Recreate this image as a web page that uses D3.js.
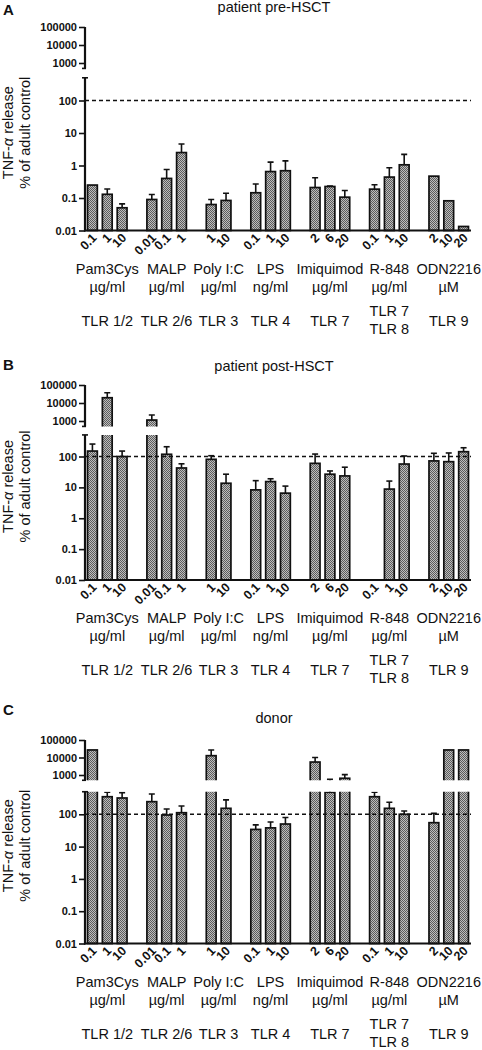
<!DOCTYPE html>
<html><head><meta charset="utf-8">
<script src="https://cdn.jsdelivr.net/npm/d3@7"></script>
<style>
body{margin:0;background:#fff}
text{font-family:"Liberation Sans",Arial,Helvetica,sans-serif;fill:#111}
</style>
</head><body>
<svg id="c" width="482" height="1050"></svg>
<script>
// ---------- DATA ----------
const groups = ["Pam3Cys","MALP","Poly I:C","LPS","Imiquimod","R-848","ODN2216"];
const units = ["µg/ml","µg/ml","µg/ml","ng/ml","µg/ml","µg/ml","µM"];
const receptors = [["TLR 1/2"],["TLR 2/6"],["TLR 3"],["TLR 4"],["TLR 7"],["TLR 7","TLR 8"],["TLR 9"]];
const doses = [["0.1","1","10"],["0.01","0.1","1"],["1","10"],["0.1","1","10"],["2","6","20"],["0.1","1","10"],["2","10","20"]];
const yTicksLower = [0.01,0.1,1,10,100];
const yTicksUpper = [1000,10000,100000];
const reference = 100;

const valuesA = [0.25,0.13,0.05, 0.09,0.40,2.5, 0.063,0.084, 0.145,0.65,0.69, 0.21,0.226,0.106, 0.187,0.44,1.05, 0.47,0.082,0.0133];
const errorsA = [null,0.19,0.066, 0.128,0.75,4.6, 0.09,0.14, 0.27,1.27,1.39, 0.42,0.235,0.17, 0.255,0.85,2.2, null,null,null];
const valuesB = [150,19600,100, 1130,118,42.5, 81,13.6, 8.3,15.4,6.5, 60,26.7,23.5, null,8.8,57, 72,68,143];
const errorsB = [253,37000,150, 2150,207,58, 106,26.7, 16.5,19,11, 120,34,45, null,16,104, 127,130,192];
const valuesC = [27000,350,320, 246,95,112, 12700,153, 34,38,50, 5500,480,650, 350,153,100, 55,27000,27000];
const errorsC = [null,480,470, 425,146,180, 26800,280, 47,58,80, 10000,560,1050, 480,235,127, 107,null,null];

// ---------- LAYOUT ----------
const panels = [
  {letter:"A", title:"patient pre-HSCT", values:valuesA, errors:errorsA,
   yTop:27, y1000:63, y100:100.5, yBottom:230.5, titleY:11.5, letterY:15},
  {letter:"B", title:"patient post-HSCT", values:valuesB, errors:errorsB,
   yTop:385, y1000:421, y100:456.5, yBottom:580, titleY:371, letterY:370},
  {letter:"C", title:"donor", values:valuesC, errors:errorsC,
   yTop:740, y1000:775, y100:814.3, yBottom:943.5, titleY:723, letterY:715}
];
const X0 = 85, X1 = 471, BRK = 500;

const svg = d3.select("#c");
const defs = svg.append("defs");
const pat = defs.append("pattern").attr("id","dots").attr("width",2).attr("height",2)
  .attr("patternUnits","userSpaceOnUse");
pat.append("rect").attr("width",2).attr("height",2).attr("fill","#bdbdbd");
pat.append("rect").attr("width",1).attr("height",1).attr("fill","#5c5c5c");
pat.append("rect").attr("x",1).attr("y",1).attr("width",1).attr("height",1).attr("fill","#5c5c5c");

const slots = [];
groups.forEach((g,gi)=>{
  doses[gi].forEach(d=>slots.push({key:g+"|"+d, group:gi, dose:d}));
  if (gi < groups.length-1) slots.push({key:"gap"+gi, gap:true});
});
const bars = slots.filter(s=>!s.gap);
const x = d3.scaleBand().domain(slots.map(s=>s.key)).range([X0,X1]).paddingInner(0.34).paddingOuter(0.17);
const bw = x.bandwidth();
const groupCenter = gi => d3.mean(bars.filter(b=>b.group===gi), b=>x(b.key)+bw/2);

panels.forEach((p,pi)=>{
  const upper = d3.scaleLog().domain([1000,100000]).range([p.y1000,p.yTop]);
  const lower = d3.scaleLog().domain([0.01,100]).range([p.yBottom,p.y100]);
  const uB = upper(BRK), lT = lower(BRK);
  const g = svg.append("g");

  g.append("text").attr("x",3).attr("y",p.letterY).attr("font-size",15).attr("font-weight","bold").text(p.letter);
  g.append("text").attr("x",274).attr("y",p.titleY).attr("text-anchor","middle").attr("font-size",14.5).text(p.title);

  const segs = [
    {ymap:v=> v>BRK ? lT-4 : lower(v), inSeg:v=>v<=BRK, base:p.yBottom, c0:lT, c1:p.yBottom+3},
    {ymap:v=> v<BRK ? uB+4 : upper(v), inSeg:v=>v>=BRK, base:uB+4, c0:p.yTop-20, c1:uB}
  ];
  segs.forEach((s,si)=>{
    const id = "clip"+pi+"_"+si;
    defs.append("clipPath").attr("id",id).append("rect")
      .attr("x",0).attr("y",s.c0).attr("width",482).attr("height",s.c1-s.c0);
    const sg = g.append("g").attr("clip-path",`url(#${id})`);
    bars.forEach((b,i)=>{
      const v = p.values[i], e = p.errors[i];
      if (v==null) return;
      const cx = x(b.key)+bw/2;
      const yv = s.ymap(v);
      if (e!=null){
        const ye = s.ymap(e);
        if (ye < yv) sg.append("line").attr("x1",cx).attr("x2",cx).attr("y1",yv).attr("y2",ye)
          .attr("stroke","#111").attr("stroke-width",1.6);
        if (s.inSeg(e)) sg.append("line").attr("x1",cx-3).attr("x2",cx+3).attr("y1",ye).attr("y2",ye)
          .attr("stroke","#111").attr("stroke-width",1.6);
      }
      if (yv < s.base) sg.append("rect").attr("x",x(b.key)).attr("width",bw)
        .attr("y",yv).attr("height",s.base-yv)
        .attr("fill","url(#dots)").attr("stroke","#111").attr("stroke-width",1.7);
    });
  });

  g.append("line").attr("x1",X0).attr("x2",X1).attr("y1",lower(reference)).attr("y2",lower(reference))
    .attr("stroke","#111").attr("stroke-width",1.4).attr("stroke-dasharray","4,3");

  const fmt = d=>String(d);
  const axL = g.append("g").attr("transform",`translate(${X0},0)`)
    .call(d3.axisLeft(lower).tickValues(yTicksLower).tickFormat(fmt).tickSize(6).tickSizeOuter(0));
  const axU = g.append("g").attr("transform",`translate(${X0},0)`)
    .call(d3.axisLeft(upper).tickValues(yTicksUpper).tickFormat(fmt).tickSize(6).tickSizeOuter(0));
  [axL,axU].forEach(a=>{
    a.select(".domain").remove();
    a.selectAll(".tick line").attr("stroke","#111").attr("stroke-width",1.6);
    a.selectAll(".tick text").attr("font-size",11).attr("font-weight","bold")
      .attr("font-family","'Liberation Sans',Arial,sans-serif").attr("fill","#111").attr("x",-8);
  });
  g.append("line").attr("x1",X0).attr("x2",X0).attr("y1",lT).attr("y2",p.yBottom+1).attr("stroke","#111").attr("stroke-width",2.2);
  g.append("line").attr("x1",X0).attr("x2",X0).attr("y1",p.yTop).attr("y2",uB).attr("stroke","#111").attr("stroke-width",2.2);
  g.append("line").attr("x1",X0-3).attr("x2",X0+3).attr("y1",lT).attr("y2",lT).attr("stroke","#111").attr("stroke-width",1.6);
  g.append("line").attr("x1",X0-3).attr("x2",X0+1).attr("y1",uB).attr("y2",uB).attr("stroke","#111").attr("stroke-width",1.6);
  g.append("line").attr("x1",X0-1).attr("x2",X1).attr("y1",p.yBottom).attr("y2",p.yBottom).attr("stroke","#111").attr("stroke-width",2.2);

  const ym = (p.yTop+p.yBottom)/2+4;
  const yt = g.append("text").attr("transform",`translate(13,${ym}) rotate(-90)`).attr("text-anchor","middle").attr("font-size",14.5);
  yt.append("tspan").text("TNF-");
  yt.append("tspan").attr("font-style","italic").text("α");
  yt.append("tspan").text(" release");
  g.append("text").attr("transform",`translate(29.5,${ym}) rotate(-90)`).attr("text-anchor","middle").attr("font-size",14.5).text("% of adult control");

  // x tick labels (dose), rotated 45 degrees
  bars.forEach(b=>{
    const ax = x(b.key)+bw/2+5, ay = p.yBottom+8;
    g.append("text")
      .attr("transform",`translate(${ax},${ay}) rotate(-45)`)
      .attr("text-anchor","end").attr("font-size",12.5).attr("font-weight","bold")
      .text(b.dose);
  });

  groups.forEach((gname,gi)=>{
    const cx = groupCenter(gi);
    const fs = 14.5;
    g.append("text").attr("x",cx).attr("y",p.yBottom+43).attr("text-anchor","middle").attr("font-size",fs).text(gname);
    g.append("text").attr("x",cx).attr("y",p.yBottom+61).attr("text-anchor","middle").attr("font-size",fs).text(units[gi]);
    const r = receptors[gi];
    if (r.length===1){
      g.append("text").attr("x",cx).attr("y",p.yBottom+95).attr("text-anchor","middle").attr("font-size",fs).text(r[0]);
    } else {
      r.forEach((t,k)=>g.append("text").attr("x",cx).attr("y",p.yBottom+85+18*k).attr("text-anchor","middle").attr("font-size",fs).text(t));
    }
  });
});
</script>
</body></html>
